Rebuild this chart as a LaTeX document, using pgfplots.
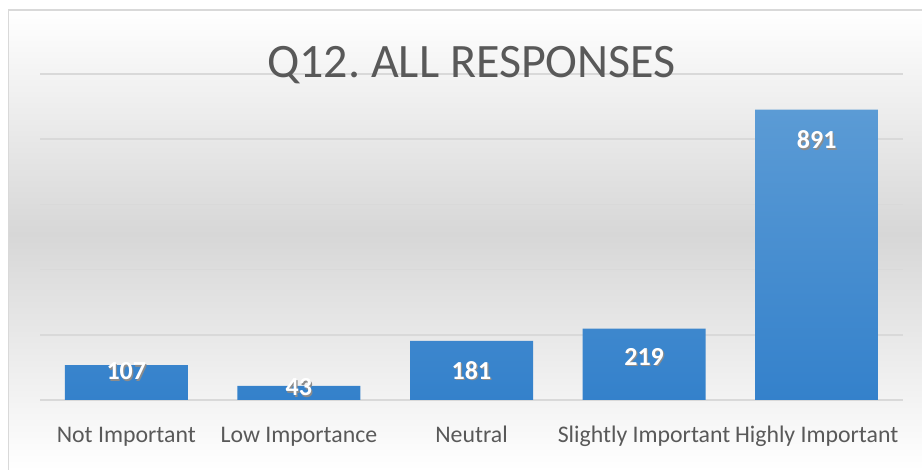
\documentclass[border=0pt]{standalone}
\usepackage{pgfplots}
\pgfplotsset{compat=1.18}
\usepackage{pgfplotstable}
\usepackage{fontspec}
\setmainfont{Carlito}
\frenchspacing

\definecolor{bartop}{HTML}{5B9BD5}
\definecolor{barbot}{HTML}{3481CB}
\definecolor{txtgray}{HTML}{595959}
\definecolor{gridgray}{HTML}{D9D9D9}
\definecolor{bgmid}{HTML}{D7D7D7}
\definecolor{framegray}{HTML}{D9D9D9}

% x = category index, y = responses, dy = label offset from bar top
\pgfplotstableread{
x y dy
0 107 -7
1 43 -2
2 181 -30
3 219 -29
4 891 -31
}\responses

\newcommand\shadowtext[1]{\rlap{\kern1.2pt\raisebox{-1.2pt}{\textcolor{black!45}{#1}}}#1}

\begin{document}
\begin{tikzpicture}[x=1pt,y=1pt]
\path[use as bounding box] (0,0) rectangle (922,470);
% background
\shade[top color=white, bottom color=bgmid] (8,236) rectangle (922,460);
\shade[top color=bgmid, bottom color=white] (8,0) rectangle (922,236.5);
\draw[framegray, line width=1.2pt] (8.5,0) -- (8.5,460) -- (922,460);

\begin{axis}[
  at={(40pt,70pt)}, anchor=south west,
  scale only axis, width=863pt, height=326pt,
  xmin=-0.5, xmax=4.5, ymin=0, ymax=1000,
  ybar, bar width=123pt,
  axis line style={draw=none},
  tick style={draw=none},
  ytick={0,200,400,600,800,1000},
  yticklabels={},
  ymajorgrids,
  major grid style={gridgray, line width=1.5pt},
  xtick=data,
  xticklabels={Not Important, Low Importance, Neutral, Slightly Important, Highly Important},
  xticklabel style={font=\fontsize{23.8}{27}\selectfont, text=txtgray, anchor=base, yshift=-38pt},
  clip=false,
  visualization depends on={\thisrow{dy}\as\dy},
  nodes near coords={\shadowtext{\pgfmathprintnumber[assume math mode=true]{\pgfplotspointmeta}}},
  every node near coord/.append style={anchor=center, yshift=\dy pt, shade=false, fill=none,
    text=white, font=\bfseries\fontsize{26}{30}\selectfont},
]
\addplot[draw=none, top color=bartop, bottom color=barbot] table[x=x, y=y] {\responses};
\end{axis}

\node[anchor=base, text=txtgray, font=\fontsize{48}{53}\selectfont] at (471.5,392) {Q12. ALL RESPONSES};
\end{tikzpicture}
\end{document}
